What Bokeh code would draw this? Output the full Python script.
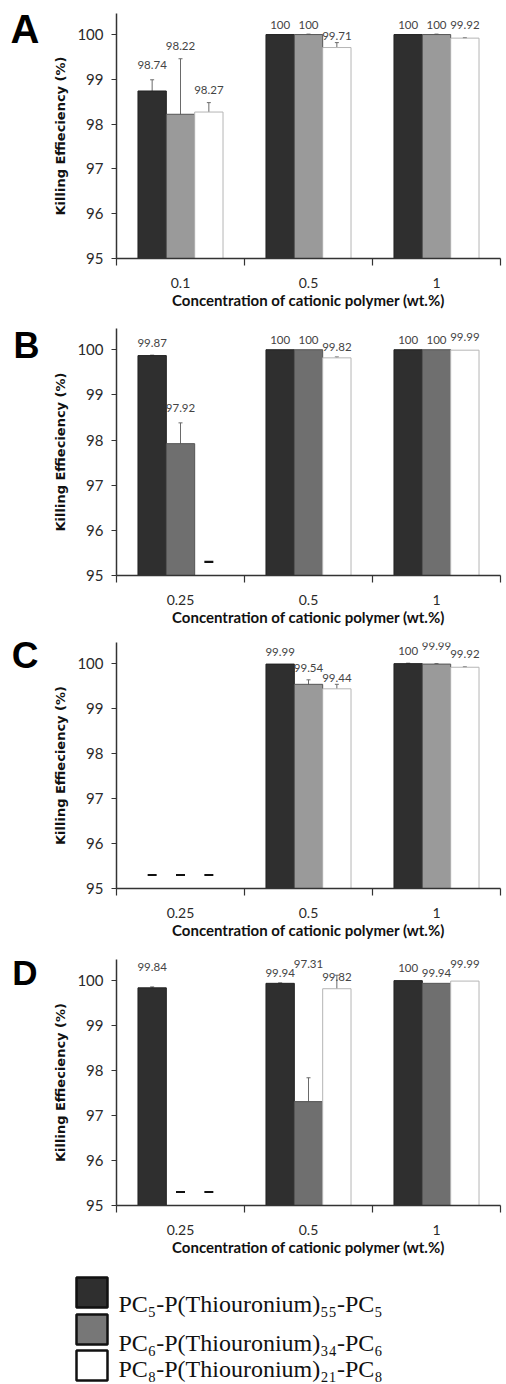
import math
from bokeh.plotting import figure
from bokeh.models import Range1d, FixedTicker, LinearAxis, Whisker, ColumnDataSource, TeeHead
from bokeh.layouts import column
from bokeh.embed import file_html
from bokeh.resources import INLINE
from bokeh.core.properties import value

NaN = float("nan")

# ---------------- data ----------------
series_names = ["PC\u2085-P(Thiouronium)\u2085\u2085-PC\u2085",
                "PC\u2086-P(Thiouronium)\u2083\u2084-PC\u2086",
                "PC\u2088-P(Thiouronium)\u2082\u2081-PC\u2088"]

cats_A = ["0.1", "0.5", "1"]
A_s1 = [98.74, 100, 100]
A_s2 = [98.22, 100, 100]
A_s3 = [98.27, 99.71, 99.92]
A_e1 = [0.25, 0.0, 0.0]
A_e2 = [1.24, 0.01, 0.01]
A_e3 = [0.21, 0.11, 0.01]

cats_B = ["0.25", "0.5", "1"]
B_s1 = [99.87, 100, 100]
B_s2 = [97.92, 100, 100]
B_s3 = [NaN, 99.82, 99.99]
B_e1 = [0.01, 0.0, 0.0]
B_e2 = [0.46, 0.0, 0.0]
B_e3 = [0.0, 0.02, 0.0]

cats_C = ["0.25", "0.5", "1"]
C_s1 = [NaN, 99.99, 100]
C_s2 = [NaN, 99.54, 99.99]
C_s3 = [NaN, 99.44, 99.92]
C_e1 = [0.0, 0.0, 0.01]
C_e2 = [0.0, 0.10, 0.01]
C_e3 = [0.0, 0.10, 0.01]

cats_D = ["0.25", "0.5", "1"]
D_s1 = [99.84, 99.94, 100]
D_s2 = [NaN, 97.31, 99.94]
D_s3 = [NaN, 99.82, 99.99]
D_e1 = [0.02, 0.01, 0.0]
D_e2 = [0.0, 0.53, 0.0]
D_e3 = [0.0, 0.30, 0.0]

# value-label heights (annotation placement, in axis units)
lab_A = [[99.31, 100.22, 100.22], [99.75, 100.22, 100.22], [98.77, 99.96, 100.22]]
lab_B = [[100.15, 100.22, 100.22], [98.72, 100.22, 100.22], [NaN, 100.07, 100.29]]
lab_C = [[NaN, 100.25, 100.27], [NaN, 99.91, 100.40], [NaN, 99.69, 100.22]]
lab_D = [[100.31, 100.18, 100.27], [NaN, 100.38, 100.18], [NaN, 100.07, 100.38]]

# ---------------- style ----------------
DARK = "#2f2f2f"
MID_LIGHT = "#9a9a9a"
MID_DARK = "#6f6f6f"
AX = "#333333"
FONT = "Lato"
BAR_W = 0.2215


def make_panel(letter, letter_style, cats, vals, errs, labs, mid_color, top, frame_h, bottom, right_edge):
    p = figure(width=506, height=top + frame_h + bottom,
               x_range=Range1d(0, 3), y_range=Range1d(95, 100.47),
               min_border_left=116, min_border_right=506 - right_edge,
               min_border_top=top, min_border_bottom=bottom,
               output_backend="svg", toolbar_location=None)
    p.xgrid.visible = False
    p.ygrid.visible = False
    p.outline_line_color = None
    p.background_fill_color = "white"
    p.border_fill_color = "white"

    # y axis
    ya = p.yaxis[0]
    ya.ticker = FixedTicker(ticks=[95, 96, 97, 98, 99, 100])
    ya.axis_line_color = AX
    ya.axis_line_width = 1.5
    ya.major_tick_line_color = AX
    ya.major_tick_line_width = 1.2
    ya.major_tick_out = 5
    ya.major_tick_in = 0
    ya.minor_tick_line_color = None
    ya.major_label_text_font = FONT
    ya.major_label_text_font_size = "15px"
    ya.major_label_text_color = "#2a2a2a"
    ya.major_label_standoff = 8
    ya.axis_label = "Killing Effieciency (%)"
    ya.axis_label_text_font = "DejaVu Sans"
    ya.axis_label_text_font_style = "bold"
    ya.axis_label_text_font_size = "13px"
    ya.axis_label_text_color = "#111111"
    ya.axis_label_standoff = 6

    # panel letter drawn as the label of an extra, bare left axis
    lpos, lsize, lstand = letter_style
    la = LinearAxis(ticker=FixedTicker(ticks=[lpos]),
                    major_label_overrides={lpos: letter},
                    axis_line_color=None, major_tick_line_color=None,
                    minor_tick_line_color=None, major_tick_out=0, major_tick_in=0,
                    major_label_text_font="Liberation Sans",
                    major_label_text_font_style="bold",
                    major_label_text_font_size=lsize,
                    major_label_text_color="black",
                    major_label_standoff=lstand)
    p.add_layout(la, "left")

    # x axis
    xa = p.xaxis[0]
    xa.ticker = FixedTicker(ticks=[0.5, 1.5, 2.5], minor_ticks=[0, 1, 2, 3])
    xa.major_label_overrides = {0.5: cats[0], 1.5: cats[1], 2.5: cats[2]}
    xa.axis_line_color = AX
    xa.axis_line_width = 1.5
    xa.major_tick_line_color = None
    xa.major_tick_out = 0
    xa.major_tick_in = 0
    xa.minor_tick_line_color = AX
    xa.minor_tick_line_width = 1.2
    xa.minor_tick_out = 7
    xa.minor_tick_in = 0
    xa.major_label_text_font = FONT
    xa.major_label_text_font_size = "14px"
    xa.major_label_text_color = "#2a2a2a"
    xa.major_label_standoff = 12
    xa.axis_label = "Concentration of cationic polymer (wt.%)"
    xa.axis_label_text_font = FONT
    xa.axis_label_text_font_style = "bold"
    xa.axis_label_text_font_size = "15px"
    xa.axis_label_text_color = "#111111"
    xa.axis_label_standoff = 0

    fills = [DARK, mid_color, "white"]
    lines = ["#222222", "#555555", "#b5b5b5"]
    dash_x = []
    for k in range(3):
        xs, tops, wb, wu, wl, lx, ly, lt = [], [], [], [], [], [], [], []
        for i in range(3):
            xc = i + 0.5 + (k - 1) * BAR_W
            v = vals[k][i]
            if math.isnan(v):
                dash_x.append(xc)
                continue
            xs.append(xc)
            tops.append(v)
            e = errs[k][i]
            if e > 0:
                wb.append(xc); wu.append(v + e); wl.append(v - e)
            if not math.isnan(labs[k][i]):
                lx.append(xc); ly.append(labs[k][i]); lt.append(f"{v:g}")
        p.vbar(x=xs, top=tops, bottom=95, width=BAR_W,
               fill_color=fills[k], line_color=lines[k], line_width=1)
        if wb:
            src = ColumnDataSource(dict(base=wb, upper=wu, lower=wl))
            p.add_layout(Whisker(base="base", upper="upper", lower="lower", source=src,
                                 dimension="height", line_color="#6a6a6a", line_width=1,
                                 upper_head=TeeHead(size=4, line_color="#6a6a6a", line_width=1),
                                 lower_head=TeeHead(size=4, line_color="#6a6a6a", line_width=1)))
        p.text(x=lx, y=ly, text=lt, text_align="center", text_baseline="middle",
               text_font=value(FONT), text_font_size="11.5px", text_color="#444444")
    if dash_x:
        p.rect(x=dash_x, y=[95.3] * len(dash_x), width=9, height=2.2,
               width_units="screen", height_units="screen",
               fill_color="#111111", line_color=None)
    return p


pA = make_panel("A", (100.13, "40px", 11), cats_A, [A_s1, A_s2, A_s3], [A_e1, A_e2, A_e3],
                lab_A, MID_LIGHT, 13, 245, 57, 500)
pB = make_panel("B", (100.10, "36px", 11), cats_B, [B_s1, B_s2, B_s3], [B_e1, B_e2, B_e3],
                lab_B, MID_DARK, 13, 247, 55, 502)
pC = make_panel("C", (100.17, "37px", 12), cats_C, [C_s1, C_s2, C_s3], [C_e1, C_e2, C_e3],
                lab_C, MID_LIGHT, 12, 246, 58, 505)
pD = make_panel("D", (100.17, "35px", 13), cats_D, [D_s1, D_s2, D_s3], [D_e1, D_e2, D_e3],
                lab_D, MID_DARK, 13, 246, 57, 502)

# ---------------- legend ----------------
LH = 122
pl = figure(width=506, height=LH, x_range=Range1d(0, 506), y_range=Range1d(LH, 0),
            min_border=0, x_axis_type=None, y_axis_type=None,
            output_backend="svg", toolbar_location=None)
pl.frame_align = False
pl.outline_line_color = None
pl.xgrid.visible = False
pl.ygrid.visible = False
sq_y = [30, 67, 103]
pl.rect(x=[91.5] * 3, y=sq_y, width=31, height=30,
        fill_color=[DARK, "#777777", "white"], line_color="#111111", line_width=2.5)
pl.text(x=[118] * 3, y=[41, 80, 106], text=series_names,
        text_font=value("Liberation Serif"), text_font_size="24px",
        text_color="#111111", text_baseline="alphabetic", text_align="left")

layout = column(pA, pB, pC, pD, pl, spacing=0)
open("out.html", "w").write(file_html(layout, INLINE))
